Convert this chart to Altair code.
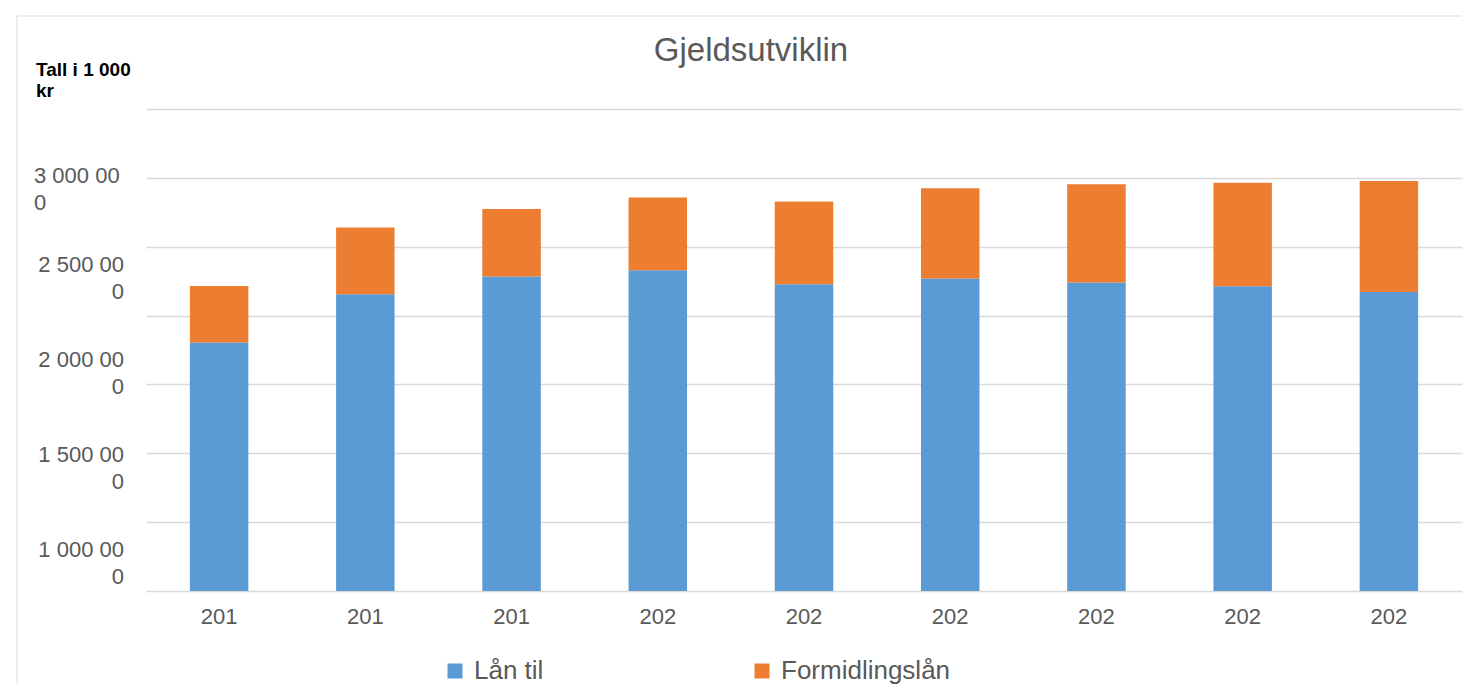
import altair as alt
import pandas as pd

# ---------------- data ----------------
years = ["2017", "2018", "2019", "2020", "2021", "2022", "2023", "2024", "2025"]
lan_til = [1804000, 2155000, 2283000, 2329000, 2228000, 2269000, 2240000, 2213000, 2172000]
formidlingslan = [411000, 484000, 490000, 528000, 600000, 656000, 714000, 751000, 806000]
series_names = ["Lån til", "Formidlingslån"]
series_colors = ["#5B9BD5", "#ED7D31"]

grid_values = [0, 500000, 1000000, 1500000, 2000000, 2500000, 3000000, 3500000]
y_tick_values = [1000000, 1500000, 2000000, 2500000, 3000000]
y_tick_labels = ["1 000 000", "1 500 000", "2 000 000", "2 500 000", "3 000 000"]
title_text = "Gjeldsutviklin"
y_title = ["Tall i 1 000", "kr"]

rows = []
for i, yr in enumerate(years):
    rows.append({"year": yr, "series": series_names[0], "value": lan_til[i], "order": 0})
    rows.append({"year": yr, "series": series_names[1], "value": formidlingslan[i], "order": 1})
df = pd.DataFrame(rows)

FONT = "Liberation Sans"
TXT = "#595959"
GRID = "#D9D9D9"
W = 1316
H = 482

# wrapped y tick labels (as in the reference: 8 characters, then the rest)
parts = []
for v, lbl in zip(y_tick_values, y_tick_labels):
    parts.append(f"datum.value == {v} ? ['{lbl[:8]}', '{lbl[8:]}']")
label_expr = " : ".join(parts) + " : ''"

x_enc = alt.X(
    "year:N",
    sort=years,
    scale=alt.Scale(paddingInner=0.6, paddingOuter=0.3),
    axis=alt.Axis(
        title=None,
        labelExpr="substring(datum.label, 0, 3)",
        labelAngle=0,
        labelFontSize=22,
        labelColor=TXT,
        labelPadding=15.5,
        ticks=False,
        tickSize=0,
        domain=False,
        grid=False,
    ),
)

bars = alt.Chart(df).mark_bar().encode(
    x=x_enc,
    y=alt.Y(
        "value:Q",
        stack="zero",
        scale=alt.Scale(domain=[0, 3500000], nice=False),
        axis=alt.Axis(
            orient="left",
            values=grid_values,
            labels=False,
            ticks=False,
            tickSize=0,
            domain=False,
            grid=True,
            gridColor=GRID,
            gridWidth=1.5,
            title=y_title,
            titleAngle=0,
            titleAlign="left",
            titleBaseline="alphabetic",
            titleX=-110.5,
            titleY=-33.5,
            titleFontSize=19,
            titleFontWeight="bold",
            titleColor="#000000",
            titleLineHeight=21,
        ),
    ),
    color=alt.Color(
        "series:N",
        scale=alt.Scale(domain=series_names, range=series_colors),
        legend=alt.Legend(
            title=None,
            orient="none",
            legendX=296,
            legendY=549,
            direction="horizontal",
            symbolType="square",
            symbolSize=225,
            symbolStrokeWidth=0,
            labelFontSize=26,
            labelColor=TXT,
            labelOffset=6,
            columnPadding=205,
            labelLimit=400,
            padding=0,
        ),
    ),
    order=alt.Order("order:Q"),
)

label_axis_layer = alt.Chart(df).mark_point(opacity=0).encode(
    x=alt.X("year:N", sort=years),
    y=alt.Y(
        "value:Q",
        scale=alt.Scale(domain=[781560, 3318420], nice=False, zero=False),
        axis=alt.Axis(
            orient="left",
            values=y_tick_values,
            labelExpr=label_expr,
            title=None,
            grid=False,
            ticks=False,
            tickSize=0,
            domain=False,
            labelFontSize=22,
            labelColor=TXT,
            labelLineHeight=27,
            labelOverlap=False,
            labelBaseline="middle",
            labelAlign={"condition": {"test": "datum.value == 3000000", "value": "left"}, "value": "right"},
            labelPadding={"condition": {"test": "datum.value == 3000000", "value": 112.5}, "value": 22.5},
            labelOffset={"condition": {"test": "datum.value == 3000000", "value": 6}, "value": 0},
        ),
    ),
)

frame_df = pd.DataFrame({"k": [0]})
frame_top = alt.Chart(frame_df).mark_rule(color=GRID, strokeWidth=1).encode(
    x=alt.value(-129), x2=alt.value(W), y=alt.value(-93)
)
frame_left = alt.Chart(frame_df).mark_rule(color=GRID, strokeWidth=1).encode(
    x=alt.value(-129), y=alt.value(-93), y2=alt.value(575)
)

chart = (
    alt.layer(frame_top, frame_left, bars, label_axis_layer)
    .resolve_scale(y="independent")
    .properties(
        width=W,
        height=H,
        padding={"left": 8, "top": 7, "right": 0, "bottom": 0},
        title=alt.TitleParams(
            text=title_text,
            fontSize=33,
            font=FONT,
            fontWeight="normal",
            color=TXT,
            anchor="middle",
            frame="group",
            dx=-53,
            baseline="alphabetic",
            offset=-78.5,
        ),
    )
    .configure(font=FONT)
    .configure_view(strokeWidth=0)
)

chart.save("out.html", embed_options={"renderer": "svg", "actions": False})
